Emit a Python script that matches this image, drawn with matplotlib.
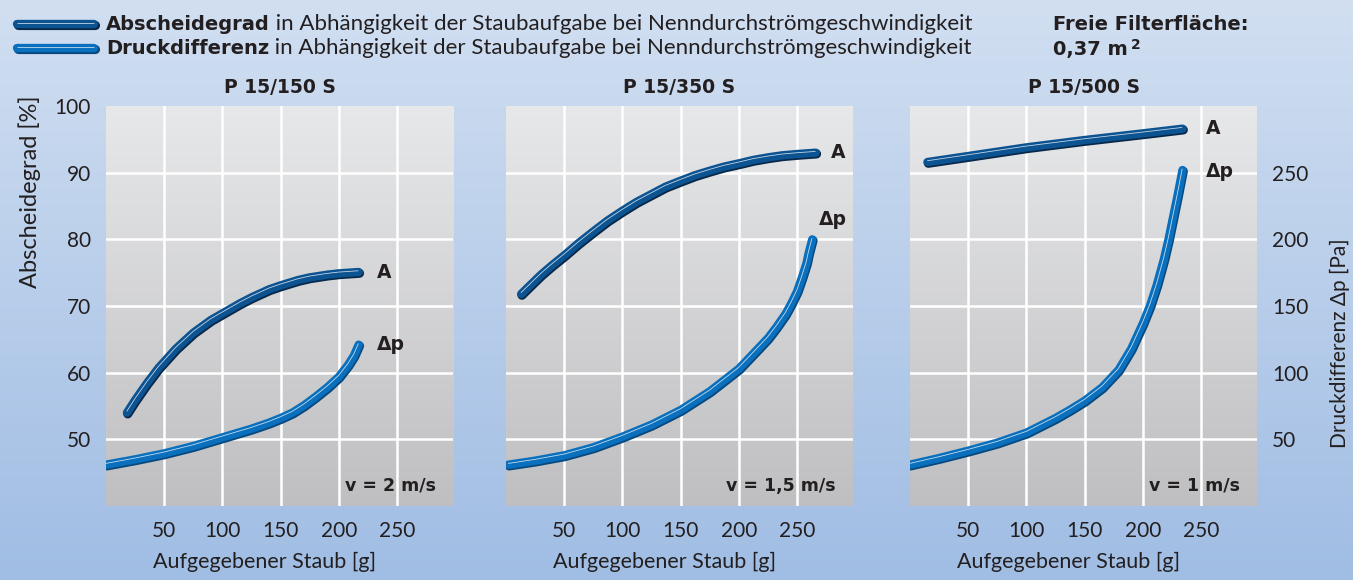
import numpy as np
import matplotlib
matplotlib.use('Agg')
import matplotlib.pyplot as plt
import matplotlib.patheffects as pe
from matplotlib.colors import LinearSegmentedColormap

plt.rcParams['font.family'] = ['Lato', 'DejaVu Sans']
BOLD = ['DejaVu Sans']

# --- data (x = Aufgegebener Staub [g]) ---
titles = ['P 15/150 S', 'P 15/350 S', 'P 15/500 S']
speeds = ['v = 2 m/s', 'v = 1,5 m/s', 'v = 1 m/s']

# Abscheidegrad [%]
a1_x = [18, 25, 35, 45, 60, 75, 90, 100, 115, 125, 140, 150, 165, 175, 190, 200, 217]
a1_y = [54, 55.9, 58.4, 60.7, 63.6, 66, 67.9, 68.9, 70.4, 71.3, 72.5, 73.1, 73.9,
        74.3, 74.7, 74.9, 75.1]
a2_x = [13, 20, 30, 40, 50, 62, 75, 87, 100, 112, 125, 137, 150, 162, 175, 187,
        200, 212, 225, 237, 250, 266]
a2_y = [71.8, 73.0, 74.7, 76.2, 77.6, 79.4, 81.2, 82.8, 84.3, 85.6, 86.8, 87.9,
        88.8, 89.6, 90.3, 90.9, 91.4, 91.9, 92.3, 92.6, 92.8, 93.0]
a3_x = [15, 50, 100, 150, 200, 234]
a3_y = [91.6, 92.5, 93.8, 94.9, 95.9, 96.6]

# Druckdifferenz [Pa]
dp1_x = [0, 25, 50, 75, 100, 125, 140, 150, 160, 170, 180, 190, 200, 208, 213, 217]
dp1_y = [31, 35, 39.5, 45, 51.5, 58, 62.5, 66, 70, 75.5, 82, 89, 97, 106, 113, 121]
dp2_x = [2, 25, 50, 75, 100, 125, 150, 175, 200, 212, 225, 232, 240, 245, 250,
         254, 258, 260, 263]
dp2_y = [31, 34, 38, 44, 52, 61, 72, 86, 103, 114, 126, 134, 144, 152, 161,
         171, 182, 190, 200]
dp3_x = [0, 25, 50, 75, 100, 125, 137, 150, 165, 179, 190, 200, 206, 212, 218,
         222, 226, 230, 234]
dp3_y = [31, 36, 41.5, 47.5, 55, 66, 72, 79, 89, 102, 118, 137, 150, 166, 185,
         200, 217, 234, 252]

x_ticks = [50, 100, 150, 200, 250]
a_ticks = [50, 60, 70, 80, 90, 100]
dp_ticks = [50, 100, 150, 200, 250]

W, H = 1353, 580
TXT = '#231f20'
A_COL, A_EDGE = '#0c5391', '#08284a'
DP_COL, DP_EDGE = '#0a70bd', '#07497f'

fig = plt.figure(figsize=(W / 100, H / 100), dpi=100)

# figure background, pixel coordinates
bg = fig.add_axes([0, 0, 1, 1], zorder=-5)
bg_cmap = LinearSegmentedColormap.from_list('bg', ['#d1dff1', '#a0bde4'])
bg.imshow(np.linspace(0, 1, 256)[:, None], cmap=bg_cmap, aspect='auto',
          extent=[0, W, H, 0])
bg.set_xlim(0, W)
bg.set_ylim(H, 0)
bg.axis('off')

panel_cmap = LinearSegmentedColormap.from_list('panel', ['#e7e8e9', '#bfbfc1'])


def tube(ax, x, y, color, edge, lw=6):
    ax.plot(x, y, color=color, lw=lw, solid_capstyle='round',
            solid_joinstyle='round', zorder=3,
            path_effects=[pe.Stroke(linewidth=lw + 0.6, foreground=edge, offset=(0.6, -0.9)),
                          pe.Stroke(linewidth=lw, foreground=color)])
    ax.plot(x, y, color='white', lw=0.6, alpha=0.75, solid_capstyle='butt',
            solid_joinstyle='round', zorder=4,
            path_effects=[pe.Stroke(offset=(-0.2, 0.9))])


a_data = [(a1_x, a1_y), (a2_x, a2_y), (a3_x, a3_y)]
dp_data = [(dp1_x, dp1_y), (dp2_x, dp2_y), (dp3_x, dp3_y)]
lefts = [106, 506, 910]
a_off = [(13, 0), (11, 0), (17, 0)]
dp_off = [(13, 0), (5, 14), (17, -1)]

for i in range(3):
    ax = fig.add_axes([lefts[i] / W, (H - 506) / H, 347 / W, 400 / H])
    ax.set_xlim(0, 298)
    ax.set_ylim(40, 100)
    ax.imshow(np.linspace(0, 1, 256)[:, None], cmap=panel_cmap, aspect='auto',
              extent=[0, 298, 40, 100], zorder=0)
    for v in x_ticks:
        ax.axvline(v, color='white', lw=1.8, zorder=1)
    for v in a_ticks[:-1]:
        ax.axhline(v, color='white', lw=1.8, zorder=1)
    ax.set_xticks(x_ticks)
    ax.set_yticks(a_ticks)
    ax.tick_params(length=0, pad=11, labelsize=15, labelcolor=TXT,
                   labelleft=(i == 0))
    for s in ax.spines.values():
        s.set_visible(False)

    tw = ax.twinx()
    tw.set_ylim(0, 300)
    tw.set_yticks(dp_ticks)
    tw.tick_params(length=0, pad=11, labelsize=15, labelcolor=TXT,
                   labelright=(i == 2))
    for s in tw.spines.values():
        s.set_visible(False)

    ax_x, ax_y = a_data[i]
    d_x, d_y = dp_data[i]
    tube(tw, d_x, d_y, DP_COL, DP_EDGE)
    tube(tw, ax_x, [(v - 40) * 5 for v in ax_y], A_COL, A_EDGE)

    tw.annotate('A', (ax_x[-1], (ax_y[-1] - 40) * 5), xytext=a_off[i],
                textcoords='offset points', ha='left', va='center',
                fontsize=13.5, fontweight='bold', family=BOLD, color=TXT)
    tw.annotate('Δp', (d_x[-1], d_y[-1]), xytext=dp_off[i],
                textcoords='offset points', ha='left', va='center',
                fontsize=13.5, fontweight='bold', family=BOLD, color=TXT)

    ax.set_title(titles[i], fontsize=13.5, fontweight='bold', family=BOLD,
                 color=TXT, pad=9)
    ax.text(0.95, 0.05, speeds[i], transform=ax.transAxes, ha='right',
            va='center', fontsize=12.5, fontweight='bold', family=BOLD,
            color=TXT, zorder=5)
    ax.text(0.458, -0.14, 'Aufgegebener Staub [g]', transform=ax.transAxes,
            ha='center', va='center', fontsize=15.5, color=TXT)

fig.text(30 / W, 1 - 192 / H, 'Abscheidegrad [%]', rotation=90, ha='center',
         va='center', fontsize=17, color=TXT)
fig.text(1340 / W, 1 - 343 / H, 'Druckdifferenz Δp [Pa]', rotation=90,
         ha='center', va='center', fontsize=15, color=TXT)

# legend at the top
legend_rows = [('Abscheidegrad', A_COL, A_EDGE, 24),
               ('Druckdifferenz', DP_COL, DP_EDGE, 48)]
rest = ' in Abhängigkeit der Staubaufgabe bei Nenndurchströmgeschwindigkeit'
for name, col, edge, yy in legend_rows:
    tube(bg, [17, 94], [yy, yy], col, edge)
    t = bg.text(106, yy, name, ha='left', va='center', fontsize=14,
                fontweight='bold', family=BOLD, color=TXT)
    bg.annotate(rest, xy=(1, 0), xycoords=t, ha='left', va='bottom',
                fontsize=16, color=TXT)

bg.text(1053, 25, 'Freie Filterfläche:', ha='left', va='center',
        fontsize=14, fontweight='bold', family=BOLD, color=TXT)
t = bg.text(1053, 50, '0,37 m', ha='left', va='center', fontsize=14,
            fontweight='bold', family=BOLD, color=TXT)
bg.annotate('2', xy=(1, 1), xycoords=t, xytext=(2, -8),
            textcoords='offset points', ha='left', va='bottom',
            fontsize=10, fontweight='bold', family=BOLD, color=TXT)

fig.savefig('out.png', dpi=100)
